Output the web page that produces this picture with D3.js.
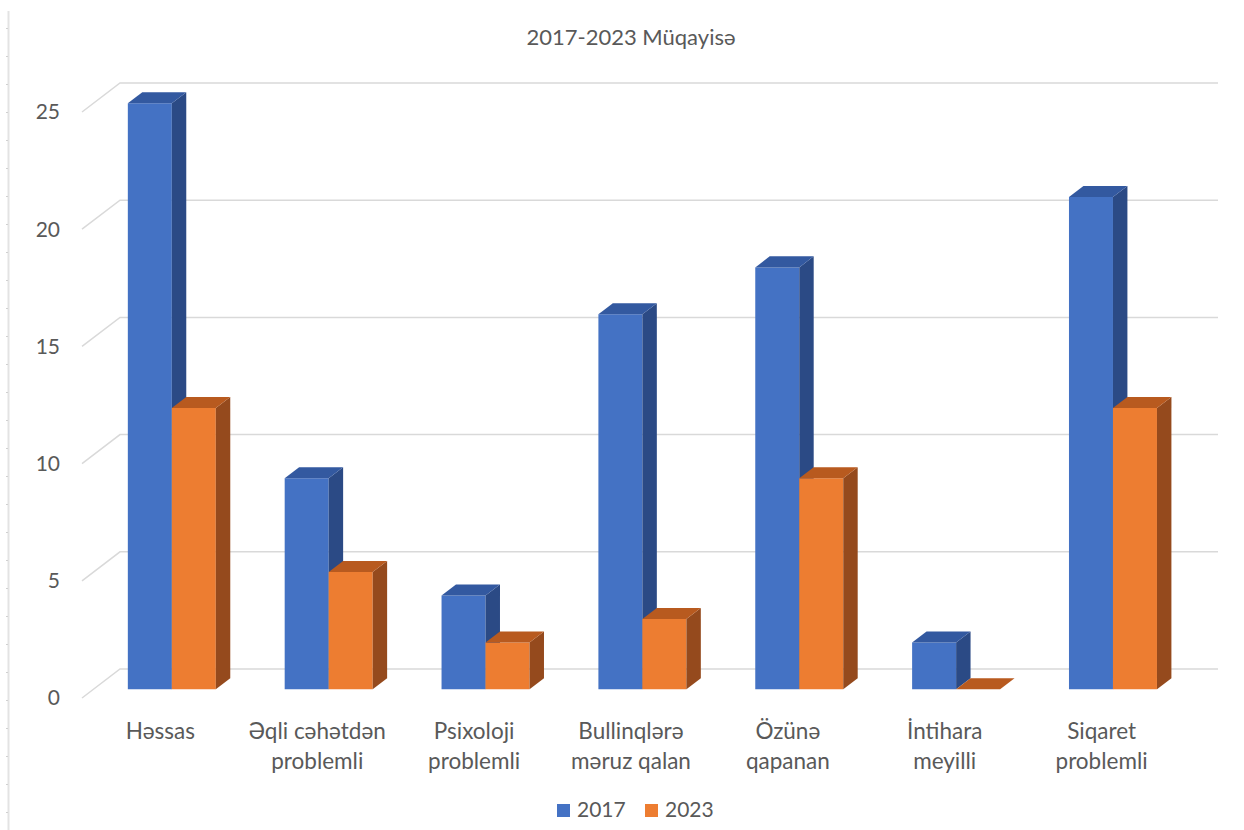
<!DOCTYPE html>
<html>
<head>
<meta charset="utf-8">
<script src="https://cdn.jsdelivr.net/npm/d3@7"></script>
<style>
  body { margin: 0; background: #fff; }
  text { font-family: Lato, "Open Sans", "Noto Sans", sans-serif; fill: #595959; }
</style>
</head>
<body>
<div class="chart"></div>
<script>
// data
const categories = ["Həssas", "Əqli cəhətdən\nproblemli", "Psixoloji\nproblemli", "Bullinqlərə\nməruz qalan",
                    "Özünə\nqapanan", "İntihara\nmeyilli", "Siqaret\nproblemli"];
const seriesNames = ["2017", "2023"];
const values2017 = [25, 9, 4, 16, 18, 2, 21];
const values2023 = [12, 5, 2, 3, 9, 0, 12];
const yTicks = [0, 5, 10, 15, 20, 25];
const title = "2017-2023 Müqayisə";

const width = 1244;
const height = 830;

// 3d look: floor goes back by (DX, DY)
const DX = 38, DY = -29;
const z0 = 0.3, z1 = 0.68;   // depth of the bars

const colors = {
    "2017": { front: "#4472c4", top: "#3359a0", side: "#2b4a85" },
    "2023": { front: "#ed7d31", top: "#b85a1f", side: "#954a1d" }
}

const svg = d3.select(".chart")
    .append("svg")
    .attr("width", width)
    .attr("height", height)

// ruler line at the left edge
svg.append("line")
    .attr("x1", 8.5).attr("x2", 8.5)
    .attr("y1", 11).attr("y2", height)
    .attr("stroke", "#e3e3e3")
    .attr("stroke-width", 2)
svg.selectAll("line.rtick")
    .data(d3.range(28.5, height, 28))
    .join("line")
    .attr("class", "rtick")
    .attr("x1", 6).attr("x2", 8)
    .attr("y1", d => d).attr("y2", d => d)
    .attr("stroke", "#d0d0d0")

// scales (front plane)
const xScale = d3.scaleBand()
    .domain(categories)
    .range([82, 1180])

const yScale = d3.scaleLinear()
    .domain([0, 25])
    .range([698, 112])

const groupW = xScale.bandwidth() * 0.561
const xInner = d3.scaleBand()
    .domain(seriesNames)
    .range([0, groupW])

// project a point at depth z
const P = (x, v, z) => [x + z * DX, yScale(v) + z * DY]

// gridlines: diagonal side wall + back wall
const grid = svg.append("g")
yTicks.forEach(t => {
    const f = P(82, t, 0), b = P(82, t, 1)
    grid.append("path")
        .attr("d", `M${f[0]},${f[1]}L${b[0]},${b[1]}L${1180 + DX},${b[1]}`)
        .attr("fill", "none")
        .attr("stroke", "#d9d9d9")
        .attr("stroke-width", 1.5)
})

// y axis labels
svg.append("g")
    .selectAll("text")
    .data(yTicks)
    .join("text")
    .attr("x", 60)
    .attr("y", d => yScale(d))
    .attr("dy", "0.35em")
    .attr("text-anchor", "end")
    .attr("font-size", 21)
    .text(d => d)

// bars
const bars = []
categories.forEach((c, i) => {
    bars.push({ cat: c, s: "2017", v: values2017[i] })
    bars.push({ cat: c, s: "2023", v: values2023[i] })
})

const poly = pts => "M" + pts.map(p => p.join(",")).join("L") + "Z"

const barG = svg.append("g")
    .selectAll("g")
    .data(bars)
    .join("g")

barG.each(function (d) {
    const g = d3.select(this)
    const x0 = xScale(d.cat) + (xScale.bandwidth() - groupW) / 2 + xInner(d.s)
    const x1 = x0 + xInner.bandwidth()
    const col = colors[d.s]
    // front
    g.append("path")
        .attr("d", poly([P(x0, 0, z0), P(x0, d.v, z0), P(x1, d.v, z0), P(x1, 0, z0)]))
        .attr("fill", col.front)
    // side
    g.append("path")
        .attr("d", poly([P(x1, 0, z0), P(x1, d.v, z0), P(x1, d.v, z1), P(x1, 0, z1)]))
        .attr("fill", col.side)
    // top
    g.append("path")
        .attr("d", poly([P(x0, d.v, z0), P(x0, d.v, z1), P(x1, d.v, z1), P(x1, d.v, z0)]))
        .attr("fill", col.top)
})

// category labels
svg.append("g")
    .selectAll("text")
    .data(categories)
    .join("text")
    .attr("x", d => xScale(d) + xScale.bandwidth() / 2)
    .attr("y", 739)
    .attr("text-anchor", "middle")
    .attr("font-size", 22.5)
    .each(function (d) {
        const lines = d.split("\n")
        d3.select(this).selectAll("tspan")
            .data(lines)
            .join("tspan")
            .attr("x", xScale(d) + xScale.bandwidth() / 2)
            .attr("dy", (l, i) => i === 0 ? 0 : 30)
            .text(l => l)
    })

// title
svg.append("text")
    .attr("x", 631)
    .attr("y", 45)
    .attr("text-anchor", "middle")
    .attr("font-size", 22)
    .text(title)

// legend
const legend = svg.append("g")
    .selectAll("g")
    .data(seriesNames)
    .join("g")
    .attr("transform", (d, i) => "translate(" + (557 + i * 88) + ",804)")
legend.append("rect")
    .attr("width", 13)
    .attr("height", 13)
    .attr("fill", d => colors[d].front)
legend.append("text")
    .attr("x", 20)
    .attr("y", 13)
    .attr("font-size", 21)
    .text(d => d)
</script>
</body>
</html>
